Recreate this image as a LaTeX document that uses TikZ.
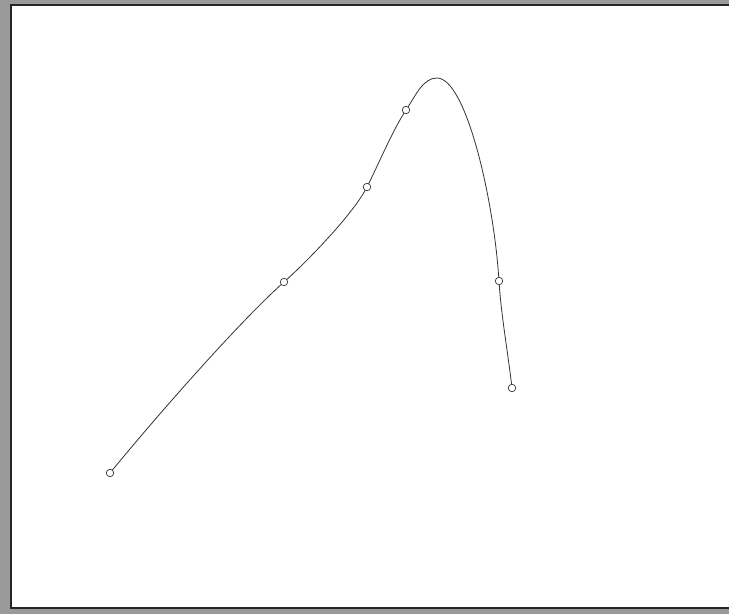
\documentclass[tikz,border=0pt]{standalone}
\usepackage{tikz}
\usetikzlibrary{calc}
\definecolor{framegray}{HTML}{9A9A9A}
\definecolor{curveline}{HTML}{333333}

\begin{document}
\begin{tikzpicture}[x=1pt, y=-1pt,
    knot/.style={circle, draw=curveline, fill=white, line width=0.7pt, inner sep=0pt, minimum size=7.5pt}]
  \useasboundingbox (0,0) rectangle (729,614);

  % Window frame
  \fill[framegray] (0,0) rectangle (729,614);
  \fill[white] (11,5) rectangle (729,608);
  \draw[line width=2pt, black!85] (729,5) -- (11,5) -- (11,608) -- (729,608);

  % Control points
  \foreach \name/\px/\py in {p1/110/473, p2/284/282, p3/367/187,
                             p4/406/110, p5/499/281, p6/512/388} {
    \coordinate (\name) at (\px,\py);
  }
  \coordinate (peak) at (437,78);

  % Interpolating curve
  \draw[curveline, line width=0.8pt]
    (p1) .. controls (155,418) and (239,322) .. (p2)
         .. controls (306.5,262.2) and (353.5,213.7) .. (p3)
         .. controls (378.3,164.8) and (392.3,130.8) .. (p4)
         .. controls (416,95) and (423,78) .. (peak)
         .. controls (466,78) and (494,200) .. (p5)
         .. controls (501.2,316) and (508,353) .. (p6);

  % Point markers
  \foreach \name in {p1,p2,p3,p4,p5,p6} {
    \node[knot] (k\name) at (\name) {};
  }
\end{tikzpicture}
\end{document}
